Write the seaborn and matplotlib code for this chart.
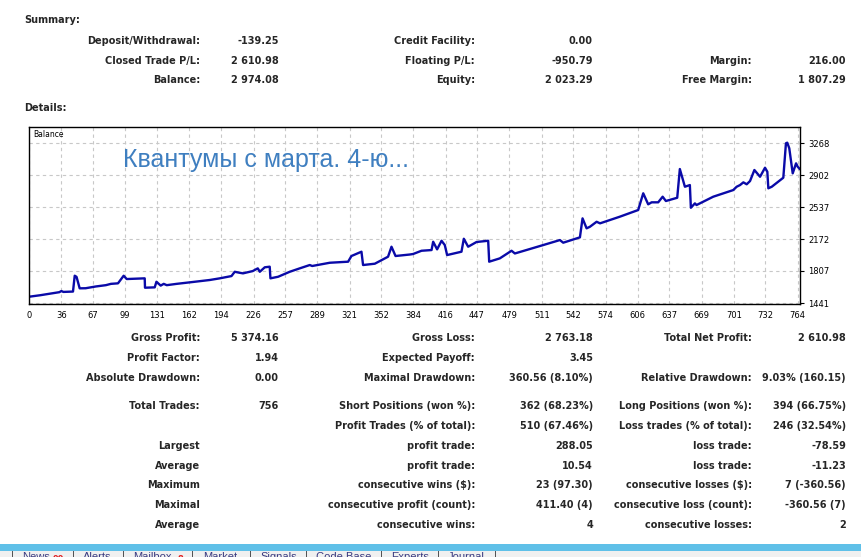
import matplotlib
matplotlib.use("Agg")
import matplotlib.pyplot as plt
import seaborn as sns
import pandas as pd
from matplotlib.patches import Rectangle

# ---------------- data ----------------
summary_rows = [
    ["Deposit/Withdrawal:", "-139.25", "Credit Facility:", "0.00", "", ""],
    ["Closed Trade P/L:", "2 610.98", "Floating P/L:", "-950.79", "Margin:", "216.00"],
    ["Balance:", "2 974.08", "Equity:", "2 023.29", "Free Margin:", "1 807.29"],
]

stats_rows = [
    ["Gross Profit:", "5 374.16", "Gross Loss:", "2 763.18", "Total Net Profit:", "2 610.98"],
    ["Profit Factor:", "1.94", "Expected Payoff:", "3.45", "", ""],
    ["Absolute Drawdown:", "0.00", "Maximal Drawdown:", "360.56 (8.10%)", "Relative Drawdown:", "9.03% (160.15)"],
    ["Total Trades:", "756", "Short Positions (won %):", "362 (68.23%)", "Long Positions (won %):", "394 (66.75%)"],
    ["", "", "Profit Trades (% of total):", "510 (67.46%)", "Loss trades (% of total):", "246 (32.54%)"],
    ["Largest", "", "profit trade:", "288.05", "loss trade:", "-78.59"],
    ["Average", "", "profit trade:", "10.54", "loss trade:", "-11.23"],
    ["Maximum", "", "consecutive wins ($):", "23 (97.30)", "consecutive losses ($):", "7 (-360.56)"],
    ["Maximal", "", "consecutive profit (count):", "411.40 (4)", "consecutive loss (count):", "-360.56 (7)"],
    ["Average", "", "consecutive wins:", "4", "consecutive losses:", "2"],
]

trade_no = [4, 15, 34, 36, 38, 47.5, 49.2, 51, 54.1, 60, 70, 80, 85, 92, 97.6, 100.6,
            118.4, 118.7, 128.3, 130, 134.2, 137.2, 140.2, 150, 165, 182.7, 192.6,
            204.2, 207.4, 212, 215.6, 225.2, 230.2, 232.2, 237.1, 242, 242.7, 250.3,
            261.8, 271.7, 281.6, 284, 301.4, 319.5, 322.8, 332.7, 334.3, 345.9, 359,
            362.4, 366.4, 380.5, 383.8, 392.1, 402, 403.6, 407.5, 411.9, 415.1, 417.4,
            431.6, 433.9, 438.2, 446.5, 458, 459, 469.5, 481.1, 484.4, 512.4, 528.9,
            532.2, 548.7, 551.3, 555.3, 558.6, 565.2, 568.6, 588.2, 606.3, 611.3,
            616.2, 619.6, 626.1, 630.5, 633.7, 644.9, 647.5, 652.5, 657.4, 658.4,
            662.4, 664, 680.5, 700.3, 703.7, 707, 710.3, 713.6, 716.9, 721.2, 726.8,
            731.7, 734, 735, 738.4, 749.8, 752.4, 753.7, 755.7, 759.1, 762.4, 764, 766.3]
balance = [1513, 1530, 1565, 1578, 1568, 1572, 1753, 1740, 1609, 1610, 1630, 1645, 1660, 1666,
           1753, 1715, 1723, 1616, 1620, 1684, 1640, 1660, 1645, 1660, 1680, 1704, 1723,
           1749, 1798, 1787, 1780, 1806, 1837, 1798, 1849, 1856, 1723, 1741,
           1798, 1837, 1875, 1864, 1901, 1913, 1978, 2027, 1875, 1890, 1970,
           2084, 1978, 1995, 2001, 2038, 2046, 2141, 2054, 2152, 2103, 1989,
           2027, 2175, 2084, 2138, 2152, 1913, 1951, 2038, 2007, 2103, 2160,
           2130, 2191, 2408, 2294, 2312, 2369, 2351, 2427, 2503, 2694,
           2568, 2591, 2591, 2655, 2606, 2643, 2971, 2769, 2788, 2529,
           2579, 2560, 2655, 2731, 2769, 2788, 2819, 2797, 2834, 2960, 2883,
           2986, 2940, 2751, 2769, 2872, 3265, 3272, 3208, 2922, 3036, 2998, 2968]

x_tick_labels = ["0", "36", "67", "99", "131", "162", "194", "226", "257", "289", "321", "352",
                 "384", "416", "447", "479", "511", "542", "574", "606", "637", "669", "701",
                 "732", "764"]
y_ticks = [1441, 1807, 2172, 2537, 2902, 3268]

tabs = ["News", "Alerts", "Mailbox", "Market", "Signals", "Code Base", "Experts", "Journal"]
tab_badges = ["99", "", "8", "", "", "", "", ""]

# ---------------- figure ----------------
W, H = 862, 557
sns.set_style("white")
plt.rcParams["font.family"] = ["DejaVu Sans"]
fig = plt.figure(figsize=(W / 100, H / 100), dpi=100, facecolor="white")


def ftxt(px, py, s, ha="right", size=7, weight="bold", **kw):
    fig.text(px / W, 1 - py / H, s, ha=ha, va="center", fontsize=size,
             fontweight=weight, **kw)


col_x = [200, 279, 475, 593, 752, 846]

ftxt(24, 20, "Summary:", ha="left")
for r, yy in zip(summary_rows, [41, 61, 80]):
    for c, s in enumerate(r):
        if s:
            ftxt(col_x[c], yy, s)
ftxt(24, 108, "Details:", ha="left")

stats_y = [338, 358, 378, 406, 426, 446, 466, 485, 505, 525]
for r, yy in zip(stats_rows, stats_y):
    for c, s in enumerate(r):
        if s:
            ftxt(col_x[c], yy, s)

# ---------------- chart ----------------
ax = fig.add_axes([29 / W, 1 - 304 / H, (800 - 29) / W, (304 - 127) / H])
df = pd.DataFrame({"trade": trade_no, "balance": balance})
sns.lineplot(data=df, x="trade", y="balance", ax=ax, color="#0a0aa8", linewidth=1.7,
             estimator=None, sort=False)
ax.set_xlim(4, 766.3)
ax.set_ylim(1430, 3451)
xt_vals = [float(v) for v in x_tick_labels]
xt_vals[0] = 4
ax.set_xticks(xt_vals)
ax.set_xticklabels(x_tick_labels, fontsize=6)
ax.set_yticks(y_ticks)
ax.set_yticklabels([str(v) for v in y_ticks], fontsize=6)
ax.yaxis.tick_right()
ax.tick_params(axis="both", length=3, width=0.8, color="black", pad=2, labelcolor="black")
ax.tick_params(axis="y", pad=3)
ax.grid(True, color="#c8c8c8", linestyle=(0, (3, 3)), linewidth=0.8)
ax.set_xlabel("")
ax.set_ylabel("")
for sp in ax.spines.values():
    sp.set_visible(True)
    sp.set_color("black")
    sp.set_linewidth(1.0)
ax.text(4 / 771, 0.955, "Balance", transform=ax.transAxes, fontsize=5.5, ha="left",
        va="center", color="black")
ax.text((123 - 29) / 771, 1 - (160 - 127) / 177, "Квантумы с марта. 4-ю...",
        transform=ax.transAxes, fontsize=18, ha="left", va="center",
        color="#3f7fc0", family=["Liberation Sans", "DejaVu Sans"])

# ---------------- bottom tab bar ----------------
fig.patches.append(Rectangle((0, 0), 1, 1 - 551 / H, transform=fig.transFigure,
                             facecolor="#f0f0f0", edgecolor="none", zorder=0))
fig.patches.append(Rectangle((0, 1 - 551 / H), 1, 7 / H, transform=fig.transFigure,
                             facecolor="#5fc0e8", edgecolor="none", zorder=5))
tab_x = [22, 83, 133, 203, 260, 316, 391, 448]
badge_x = [53, 0, 178, 0, 0, 0, 0, 0]
sep_x = [12, 73, 123, 192, 250, 306, 381, 438, 495]
for tx, s, b, bx in zip(tab_x, tabs, tab_badges, badge_x):
    fig.text(tx / W, 1 - 557 / H, s, ha="left", va="center", fontsize=8,
             color="#3a3a80", zorder=1, family=["Liberation Sans", "DejaVu Sans"])
    if b:
        fig.text(bx / W, 1 - 560 / H, b, ha="left", va="center", fontsize=6,
                 fontweight="bold", color="#e02020", zorder=1)
for sx in sep_x:
    fig.text(sx / W, 1 - 555 / H, "|", ha="center", va="center", fontsize=7,
             color="#222222", zorder=1)

fig.savefig("out.png", dpi=100, facecolor="white")
